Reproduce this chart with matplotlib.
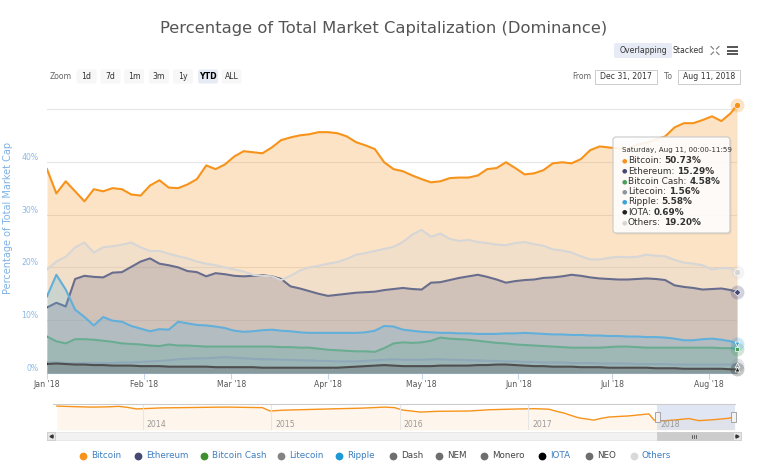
import numpy as np
import pandas as pd
import matplotlib
matplotlib.use("Agg")
import matplotlib.pyplot as plt
from matplotlib.patches import FancyBboxPatch, Rectangle

# ---- data (% of total market cap, every 3 days) ----
dates = pd.date_range("2018-01-01", "2018-08-08", freq="3D").append(pd.DatetimeIndex(["2018-08-10"]))
days = (dates - dates[0]).days.values

bitcoin = [38.6, 34.0, 36.3, 34.4, 32.5, 34.8, 34.4, 35.0, 34.8, 33.8,
           33.6, 35.5, 36.5, 35.1, 35.0, 35.7, 36.7, 39.3, 38.6, 39.5,
           41.0, 42.0, 41.8, 41.6, 42.7, 44.1, 44.6, 45.0, 45.2, 45.6,
           45.6, 45.4, 44.8, 43.7, 43.1, 42.4, 39.9, 38.6, 38.2, 37.4,
           36.7, 36.1, 36.3, 36.9, 37.0, 37.0, 37.4, 38.6, 38.8, 39.9,
           38.8, 37.6, 37.8, 38.4, 39.7, 39.9, 39.7, 40.5, 42.2, 42.9,
           42.7, 42.5, 42.4, 43.2, 43.6, 44.2, 44.8, 46.5, 47.3, 47.3,
           47.9, 48.6, 47.7, 49.2, 50.73]
ethereum = [12.4, 13.3, 12.6, 17.8, 18.4, 18.2, 18.1, 19.0, 19.1, 20.1,
            21.1, 21.7, 20.7, 20.4, 20.0, 19.3, 19.1, 18.3, 18.9, 18.7,
            18.4, 18.3, 18.4, 18.5, 18.3, 17.8, 16.4, 16.0, 15.5, 15.0,
            14.6, 14.8, 15.0, 15.2, 15.3, 15.4, 15.7, 15.9, 16.1, 15.9,
            15.8, 17.1, 17.2, 17.6, 18.0, 18.3, 18.6, 18.2, 17.7, 17.1,
            17.4, 17.6, 17.7, 18.0, 18.1, 18.3, 18.6, 18.4, 18.1, 17.9,
            17.8, 17.7, 17.7, 17.8, 17.9, 17.8, 17.6, 16.6, 16.3, 16.1,
            15.8, 15.9, 16.0, 15.7, 15.29]
bitcoin_cash = [6.9, 6.0, 5.6, 6.4, 6.4, 6.3, 6.1, 5.9, 5.6, 5.5,
                5.4, 5.2, 5.1, 5.4, 5.2, 5.2, 5.1, 5.0, 5.0, 5.0,
                5.0, 5.0, 5.0, 5.0, 5.0, 4.9, 4.9, 4.8, 4.8, 4.6,
                4.4, 4.3, 4.2, 4.1, 4.1, 4.0, 4.7, 5.6, 5.8, 5.7,
                5.8, 6.1, 6.7, 6.5, 6.4, 6.3, 6.1, 5.9, 5.7, 5.6,
                5.4, 5.3, 5.2, 5.1, 5.0, 4.9, 4.8, 4.8, 4.8, 4.8,
                4.9, 5.0, 5.0, 4.9, 4.8, 4.8, 4.8, 4.8, 4.8, 4.8,
                4.8, 4.8, 4.7, 4.7, 4.58]
litecoin = [2.0, 2.0, 1.9, 1.9, 1.9, 1.9, 1.9, 1.9, 2.0, 2.0,
            2.1, 2.2, 2.3, 2.4, 2.6, 2.7, 2.8, 2.8, 2.9, 3.0,
            2.9, 2.8, 2.7, 2.6, 2.6, 2.5, 2.5, 2.4, 2.4, 2.3,
            2.3, 2.2, 2.2, 2.2, 2.3, 2.4, 2.5, 2.6, 2.5, 2.5,
            2.5, 2.6, 2.6, 2.5, 2.5, 2.4, 2.4, 2.3, 2.3, 2.2,
            2.2, 2.1, 2.1, 2.0, 2.0, 2.0, 1.9, 1.9, 1.9, 1.8,
            1.8, 1.8, 1.8, 1.7, 1.7, 1.7, 1.7, 1.6, 1.6, 1.6,
            1.6, 1.6, 1.6, 1.6, 1.56]
ripple = [14.5, 18.6, 15.8, 12.0, 10.6, 9.0, 10.6, 9.9, 9.7, 8.9,
          8.4, 7.9, 8.3, 8.2, 9.7, 9.4, 9.1, 9.0, 8.8, 8.5,
          8.0, 7.8, 7.9, 8.1, 8.2, 8.0, 7.9, 7.7, 7.6, 7.6,
          7.6, 7.6, 7.6, 7.6, 7.7, 8.0, 8.9, 8.8, 8.2, 8.0,
          7.8, 7.7, 7.6, 7.6, 7.5, 7.5, 7.4, 7.4, 7.4, 7.5,
          7.5, 7.6, 7.5, 7.4, 7.3, 7.3, 7.2, 7.2, 7.1, 7.1,
          7.0, 7.0, 6.9, 6.9, 6.8, 6.8, 6.7, 6.5, 6.2, 6.2,
          6.4, 6.5, 6.3, 6.0, 5.58]
iota = [1.7, 1.8, 1.7, 1.6, 1.6, 1.5, 1.5, 1.4, 1.4, 1.4,
        1.3, 1.3, 1.3, 1.2, 1.2, 1.2, 1.2, 1.2, 1.1, 1.1,
        1.1, 1.1, 1.1, 1.0, 1.0, 1.0, 1.0, 1.0, 1.0, 1.0,
        1.0, 1.0, 1.1, 1.2, 1.3, 1.4, 1.5, 1.4, 1.3, 1.3,
        1.3, 1.3, 1.4, 1.4, 1.4, 1.4, 1.5, 1.5, 1.6, 1.6,
        1.5, 1.4, 1.3, 1.3, 1.2, 1.2, 1.2, 1.1, 1.1, 1.1,
        1.0, 1.0, 1.0, 1.0, 1.0, 0.9, 0.9, 0.9, 0.8, 0.8,
        0.8, 0.8, 0.8, 0.7, 0.69]
others = [19.6, 21.1, 22.0, 23.8, 24.7, 22.8, 23.8, 24.0, 24.3, 24.7,
          23.8, 23.1, 23.1, 22.6, 22.1, 21.7, 21.1, 20.7, 20.4, 20.0,
          19.6, 19.2, 18.6, 18.4, 18.3, 17.6, 18.4, 19.4, 20.0, 20.3,
          20.7, 21.0, 21.6, 22.4, 22.7, 23.1, 23.5, 23.9, 24.8, 26.2,
          27.1, 25.8, 26.4, 25.4, 25.0, 25.2, 24.8, 24.6, 24.3, 24.2,
          24.6, 24.8, 24.4, 24.1, 23.4, 23.2, 22.8, 22.1, 21.5, 21.5,
          21.8, 22.0, 21.9, 22.0, 22.4, 22.2, 22.1, 21.4, 20.9, 20.7,
          20.4, 19.6, 19.9, 19.8, 19.20]

month_days = [0, 31, 59, 90, 120, 151, 181, 212]
month_labels = ["Jan '18", "Feb '18", "Mar '18", "Apr '18", "May '18", "Jun '18", "Jul '18", "Aug '18"]

# navigator: bitcoin dominance since 2013
nav_year = [2013.33, 2013.45, 2013.60, 2013.72, 2013.81, 2013.88, 2013.95, 2014.05, 2014.14, 2014.30,
            2014.45, 2014.60, 2014.68, 2014.80, 2014.93, 2014.99, 2015.08, 2015.15, 2015.30, 2015.53,
            2015.70, 2015.88, 2015.96, 2016.02, 2016.16, 2016.30, 2016.54, 2016.70, 2016.93, 2017.05,
            2017.16, 2017.22, 2017.28, 2017.34, 2017.40, 2017.46, 2017.51, 2017.57, 2017.63, 2017.70,
            2017.78, 2017.86, 2017.94, 2017.98, 2018.05, 2018.17, 2018.25, 2018.33, 2018.45, 2018.56,
            2018.61]
nav_btc = [92, 90, 88, 89, 91, 87, 81, 83, 85, 86,
           87, 88, 88, 87, 86, 73, 76, 77, 79, 82,
           84, 88, 86, 77, 69, 72, 73, 78, 81, 82,
           80, 72, 65, 55, 46, 42, 38, 45, 50, 52,
           54, 58, 62, 38, 35, 40, 44, 36, 40, 45,
           51]

series = [("Bitcoin", bitcoin, "#f7931a", "o"),
          ("Ethereum", ethereum, "#454a75", "D"),
          ("Bitcoin Cash", bitcoin_cash, "#4a9e5c", "s"),
          ("Litecoin", litecoin, "#8c96a0", "^"),
          ("Ripple", ripple, "#3aa3dc", "v"),
          ("IOTA", iota, "#222222", "^"),
          ("Others", others, "#d6d6d6", "o")]

legend_names = ["Bitcoin", "Ethereum", "Bitcoin Cash", "Litecoin", "Ripple", "Dash",
                "NEM", "Monero", "IOTA", "NEO", "Others"]
legend_colors = ["#f7931a", "#454a75", "#3d8f30", "#838383", "#1d9ad6", "#6e6e6e",
                 "#6e6e6e", "#6e6e6e", "#000000", "#6e6e6e", "#d9d9d9"]
legend_shown = [True, True, True, True, True, False, False, False, True, False, True]

zoom_labels = ["1d", "7d", "1m", "3m", "1y", "YTD", "ALL"]

plt.rcParams["font.family"] = "DejaVu Sans"

fig = plt.figure(figsize=(7.68, 4.63), dpi=100)
ax = fig.add_axes([47 / 768, (463 - 373) / 463, 690 / 768, 272 / 463])

for i, (name, vals, col, mk) in enumerate(series):
    ax.fill_between(days, vals, 0, color=col, alpha=0.25, lw=0, zorder=2 + 2 * i)
    ax.plot(days, vals, color=col, lw=1.5, zorder=3 + 2 * i, solid_joinstyle="round")

ax.axvline(days[-1], color="#cccccc", lw=0.8, zorder=1)
for i, (name, vals, col, mk) in enumerate(series):
    ax.plot(days[-1], vals[-1], "o", ms=10, color=col, alpha=0.25, mec="none", zorder=30, clip_on=False)
    ax.plot(days[-1], vals[-1], mk, ms=4.5 if mk == "o" else 3.5, color=col, mec="white", mew=0.5,
            zorder=31, clip_on=False)

ax.set_xlim(0, days[-1])
ax.set_ylim(0, 51.5)
ax.set_yticks([0, 10, 20, 30, 40, 50])
ax.set_yticklabels(["0%", "10%", "20%", "30%", "40%", ""])
ax.grid(axis="y", color="#e6e6e6", lw=0.8, zorder=0)
ax.set_axisbelow(True)
ax.set_xticks(month_days)
ax.set_xticklabels(month_labels)
for s in ["top", "right", "left"]:
    ax.spines[s].set_visible(False)
ax.spines["bottom"].set_color("#ccd6eb")
ax.tick_params(axis="x", length=4, color="#ccd6eb", labelsize=5.6, labelcolor="#555555", pad=1)
ax.tick_params(axis="y", length=0, labelsize=5.6, labelcolor="#8cb8e6", pad=6)
plt.setp(ax.get_yticklabels(), va="bottom")
ax.set_ylabel("Percentage of Total Market Cap", fontsize=7, color="#7fb2e5")
ax.yaxis.set_label_coords(-0.049, 0.57)

# ---- navigator ----
nav = fig.add_axes([53 / 768, (463 - 430) / 463, 682 / 768, 26 / 463])
nav.fill_between(nav_year, nav_btc, 0, color="#f7931a", alpha=0.08, lw=0)
nav.plot(nav_year, nav_btc, color="#f7931a", lw=1)
nav.set_xlim(2013.30, 2018.61)
nav.set_ylim(0, 100)
for yr in [2014, 2015, 2016, 2017, 2018]:
    nav.axvline(yr, color="#e6e6e6", lw=0.8)
    nav.text(yr + 0.03, 20, str(yr), fontsize=5.6, color="#999999", va="center")
nav.axvspan(2018.0, 2018.61, color="#ccd6eb", alpha=0.6, lw=0)
nav.set_xticks([])
nav.set_yticks([])
for s in nav.spines.values():
    s.set_visible(False)

# ---- overlay in pixel coordinates ----
ui = fig.add_axes([0, 0, 1, 1], zorder=10)
ui.set_xlim(0, 768)
ui.set_ylim(463, 0)
ui.axis("off")

ui.text(384, 29, "Percentage of Total Market Capitalization (Dominance)", ha="center", va="center",
        fontsize=11.8, color="#555555")

ui.text(61, 76.5, "Zoom", ha="center", va="center", fontsize=5.6, color="#666666")
for lab, cx in zip(zoom_labels, [86.5, 110.5, 134, 159, 183, 208, 231.5]):
    sel = lab == "YTD"
    ui.add_patch(FancyBboxPatch((cx - 10, 69.5), 20, 14, boxstyle="round,pad=0,rounding_size=2",
                                fc="#e6ebf5" if sel else "#f7f7f7", ec="none"))
    ui.text(cx, 76.5, lab, ha="center", va="center", fontsize=5.6, color="#000000" if sel else "#333333",
            fontweight="bold" if sel else "normal")

ui.add_patch(FancyBboxPatch((614, 43), 58, 15, boxstyle="round,pad=0,rounding_size=2", fc="#e6ebf5", ec="none"))
ui.text(643, 50.5, "Overlapping", ha="center", va="center", fontsize=5.6, color="#333333")
ui.text(688, 50.5, "Stacked", ha="center", va="center", fontsize=5.6, color="#333333")
fx, fy = 715, 50.5
for dx, dy in [(-1, -1), (1, -1), (-1, 1), (1, 1)]:
    ui.plot([fx + dx * 1.5, fx + dx * 4], [fy + dy * 1.5, fy + dy * 4], color="#777777", lw=0.8)
for yy in [47, 50.5, 54]:
    ui.plot([727, 738], [yy, yy], color="#555555", lw=1.4, solid_capstyle="butt")

ui.text(582, 76.5, "From", ha="center", va="center", fontsize=5.6, color="#666666")
ui.add_patch(Rectangle((595, 69.5), 62, 14, fc="white", ec="#cccccc", lw=0.7))
ui.text(626, 76.5, "Dec 31, 2017", ha="center", va="center", fontsize=5.6, color="#333333")
ui.text(668, 76.5, "To", ha="center", va="center", fontsize=5.6, color="#666666")
ui.add_patch(Rectangle((678, 69.5), 62, 14, fc="white", ec="#cccccc", lw=0.7))
ui.text(709, 76.5, "Aug 11, 2018", ha="center", va="center", fontsize=5.6, color="#333333")

# navigator outline, handles and scrollbar
ui.plot([53, 735], [404, 404], color="#cccccc", lw=0.8)
for hx in [657, 733]:
    ui.add_patch(Rectangle((hx - 2.5, 412), 5, 10, fc="#f2f2f2", ec="#999999", lw=0.6))
ui.add_patch(Rectangle((47, 432), 694, 8, fc="#f2f2f2", ec="#e6e6e6", lw=0.6))
ui.add_patch(Rectangle((47, 432), 8, 8, fc="#e6e6e6", ec="#cccccc", lw=0.6))
ui.add_patch(Rectangle((733, 432), 8, 8, fc="#e6e6e6", ec="#cccccc", lw=0.6))
ui.plot(51, 436, marker="<", ms=2.2, color="#333333")
ui.plot(737, 436, marker=">", ms=2.2, color="#333333")
ui.add_patch(Rectangle((657, 432), 76, 8, fc="#cccccc", ec="#cccccc", lw=0.6))
for gx in [692, 694, 696]:
    ui.plot([gx, gx], [434.5, 437.5], color="#333333", lw=0.5)

# legend
for name, col, shown, cx in zip(legend_names, legend_colors, legend_shown,
                                [83, 138, 204, 281, 339, 393, 439, 484, 542, 589, 634]):
    ui.plot(cx, 455.5, "o", ms=5.6, color=col, mec="none")
    ui.text(cx + 8, 455.5, name, va="center", fontsize=6.3, color="#3d7ebf" if shown else "#444444")

# tooltip
ui.add_patch(FancyBboxPatch((614.5, 138.5), 117, 96, boxstyle="round,pad=0,rounding_size=3",
                            fc=(0, 0, 0, 0.06), ec="none"))
ui.add_patch(FancyBboxPatch((613, 137), 117, 96, boxstyle="round,pad=0,rounding_size=3",
                            fc=(1, 1, 1, 0.9), ec="#c8c8c8", lw=0.8))
ui.text(622, 150, "Saturday, Aug 11, 00:00-11:59", va="center", fontsize=5.1, color="#333333")
renderer = fig.canvas.get_renderer()
for (name, vals, col, mk), ty in zip(series, [160.7, 171, 181.5, 191.8, 202, 212.4, 222.7]):
    ui.text(624, ty, "\u25cf", color=col, fontsize=4.5, ha="center", va="center")
    t = ui.text(628, ty, name + ":", va="center", fontsize=6.4, color="#333333")
    bb = t.get_window_extent(renderer)
    ui.text(bb.x1 + 3, ty, f"{vals[-1]:.2f}%", va="center", fontsize=6.4, color="#333333",
            fontweight="bold")

fig.savefig("out.png", dpi=100)
